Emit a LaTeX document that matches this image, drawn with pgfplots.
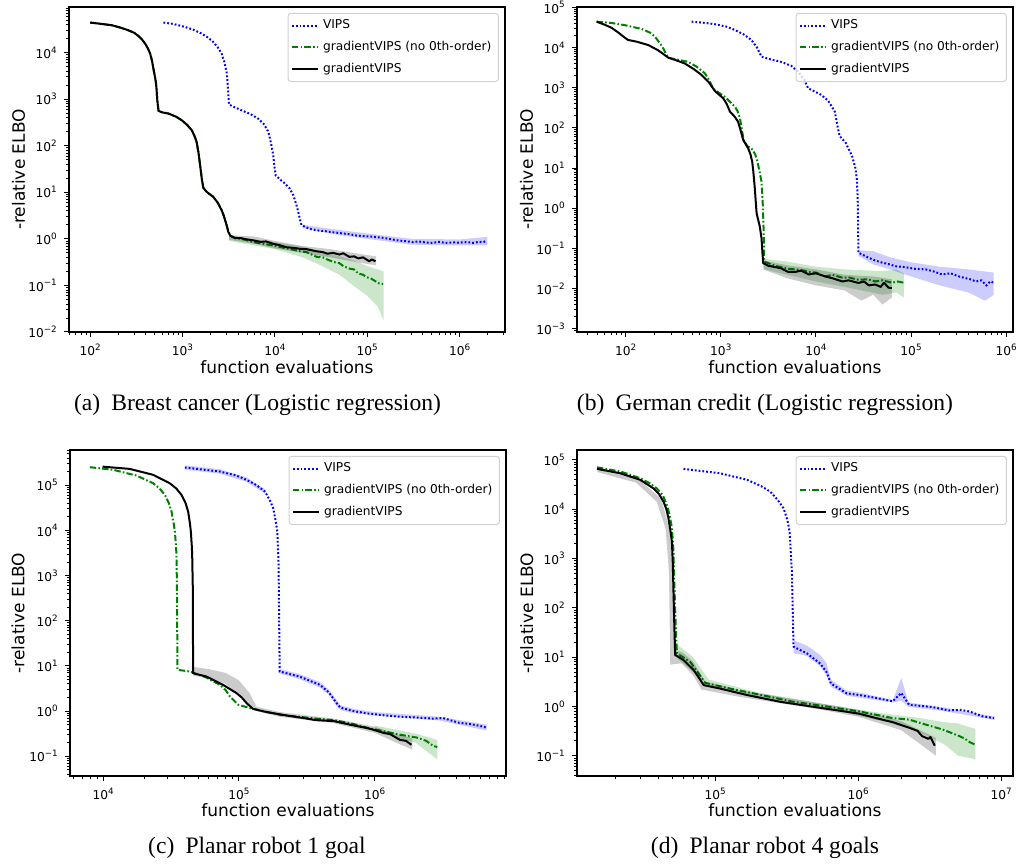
\documentclass[border=0pt]{standalone}
\usepackage{fontspec}
\setmainfont{DejaVu Sans}
\newfontfamily\capfont{Liberation Serif}
\usepackage{pgfplots}
\pgfplotsset{compat=1.18}

\definecolor{vipsblue}{rgb}{0,0,1}
\definecolor{gvgreen}{rgb}{0,0.5,0}

% exponent of a decade tick, with a real minus sign
\newcommand\tickexp[1]{\pgfmathtruncatemacro\tkexp{round(#1)}\ifnum\tkexp<0 −\number\numexpr-\tkexp\relax\else\tkexp\fi}
\newcommand\tenpow{10\raisebox{0.42em}{\fontsize{4.4}{5}\selectfont\tickexp{\tick}}}

\def\majx{1e1,1e2,1e3,1e4,1e5,1e6,1e7}
\def\majy{1e-3,1e-2,1e-1,1,1e1,1e2,1e3,1e4,1e5}
\def\minx{2e1,3e1,4e1,5e1,6e1,7e1,8e1,9e1,2e2,3e2,4e2,5e2,6e2,7e2,8e2,9e2,
  2e3,3e3,4e3,5e3,6e3,7e3,8e3,9e3,2e4,3e4,4e4,5e4,6e4,7e4,8e4,9e4,
  2e5,3e5,4e5,5e5,6e5,7e5,8e5,9e5,2e6,3e6,4e6,5e6,6e6,7e6,8e6,9e6}
\def\miny{2e-4,3e-4,4e-4,5e-4,6e-4,7e-4,8e-4,9e-4,2e-3,3e-3,4e-3,5e-3,6e-3,7e-3,8e-3,9e-3,
  2e-2,3e-2,4e-2,5e-2,6e-2,7e-2,8e-2,9e-2,0.2,0.3,0.4,0.5,0.6,0.7,0.8,0.9,
  2,3,4,5,6,7,8,9,20,30,40,50,60,70,80,90,200,300,400,500,600,700,800,900,
  2e3,3e3,4e3,5e3,6e3,7e3,8e3,9e3,2e4,3e4,4e4,5e4,6e4,7e4,8e4,9e4,
  2e5,3e5,4e5,5e5,6e5,7e5,8e5,9e5}

\pgfplotsset{
  every axis/.append style={
    scale only axis, width=218pt,
    axis line style={line width=0.55pt},
    tick align=outside, tick pos=left,
    major tick length=2.6pt, minor tick length=1.5pt,
    major tick style={black, line width=0.5pt},
    minor tick style={black, line width=0.4pt},
    tick label style={font=\fontsize{6.1}{7}\selectfont},
    label style={font=\fontsize{8.5}{10}\selectfont},
    legend style={at={(rel axis cs:0.986,0.982)}, anchor=north east,
      draw=black!18, line width=0.5pt, rounded corners=1.5pt,
      fill=white, fill opacity=0.8, text opacity=1,
      font=\fontsize{6.1}{7.3}\selectfont, inner xsep=1.5pt, inner ysep=1.2pt, row sep=0.7pt},
    legend cell align=left,
  },
  legend image code/.code={\draw[#1] (0pt,0pt) -- (13pt,0pt);},
}
\tikzset{
  vips/.style={vipsblue, line width=1pt, dash pattern=on 0.9pt off 1.0pt},
  gvzero/.style={gvgreen, line width=1pt, dash pattern=on 3.2pt off 1.1pt on 0.8pt off 1.1pt},
  gv/.style={black, line width=1pt, line join=round},
  bandB/.style={fill=vipsblue, fill opacity=0.2, draw=none},
  bandG/.style={fill=gvgreen, fill opacity=0.2, draw=none},
  bandK/.style={fill=black, fill opacity=0.2, draw=none},
}

\begin{document}
\begin{tikzpicture}
\path[use as bounding box] (0,0) rectangle (509pt,433pt);

% ---------------- (a) Breast cancer ----------------
\begin{axis}[xmode=log, ymode=log, log basis x=10, log basis y=10,
  xtick/.expand once=\majx, ytick/.expand once=\majy,
  minor xtick/.expand once=\minx, minor ytick/.expand once=\miny,
  xticklabel={\tenpow}, yticklabel={\tenpow},
  xlabel={function evaluations}, ylabel={-relative ELBO},
  x label style={at={(axis description cs:0.5,-0.107)}, anchor=center},
  y label style={at={(axis description cs:-0.116,0.5)}, anchor=center},
  at={(34.5pt,267pt)}, anchor=south west, height=162.5pt,
  xmin=59, xmax=3.1e6, ymin=1e-2, ymax=9.5e4]
\addplot[bandB, forget plot] coordinates {(2e4,2.0) (5e4,1.55) (1e5,1.3) (3e5,1.0) (1e6,0.97) (2e6,1.1)
  (2e6,0.72) (1e6,0.72) (3e5,0.75) (1e5,1.0) (5e4,1.2) (2e4,1.7)};
\addplot[vips] coordinates {(621,4.4e4) (800,4.1e4) (1060,3.55e4) (1300,3.1e4) (1600,2.57e4)
  (1850,2.15e4) (2140,1.7e4) (2400,1.3e4) (2650,9.5e3) (2820,6.5e3) (3000,3.8e3) (3080,2.2e3)
  (3140,1.2e3) (3180,766) (3600,680) (4350,575) (5400,480) (6600,380) (7600,290) (8500,198)
  (9100,110) (9600,62) (9900,35) (1.02e4,23) (1.15e4,18.5) (1.28e4,15.5) (1.45e4,12) (1.58e4,8.7)
  (1.7e4,5.6) (1.79e4,3.8) (1.87e4,2.6) (1.94e4,1.97) (2.2e4,1.75) (2.5e4,1.6) (3.0e4,1.5)
  (3.5e4,1.46) (4.3e4,1.38) (5.5e4,1.3) (6.5e4,1.25) (7.6e4,1.18) (9e4,1.15) (1.1e5,1.12)
  (1.3e5,1.08) (1.5e5,1.05) (1.8e5,0.98) (2.2e5,0.92) (2.6e5,0.89) (3.1e5,0.85) (3.6e5,0.88)
  (4.2e5,0.84) (5.1e5,0.82) (6e5,0.86) (7e5,0.82) (8.5e5,0.84) (1e6,0.83) (1.2e6,0.85)
  (1.4e6,0.82) (1.6e6,0.86) (1.8e6,0.85) (1.94e6,0.9)};
\addlegendentry{VIPS}
\addplot[bandG, forget plot] coordinates {(3200,1.15) (1e4,0.85) (2e4,0.68) (3e4,0.55) (5e4,0.42) (7e4,0.35)
  (1e5,0.26) (1.3e5,0.22) (1.5e5,0.2)
  (1.5e5,0.018) (1.3e5,0.035) (1e5,0.06) (7e4,0.1) (5e4,0.17) (3e4,0.28) (2e4,0.4) (1e4,0.6) (3200,0.9)};
\addplot[gvzero] coordinates {(100,4.4e4) (135,4.1e4) (172,3.85e4) (215,3.4e4) (259,3.0e4)
  (300,2.65e4) (333,2.27e4) (365,1.9e4) (393,1.56e4) (420,1.25e4) (446,9.5e3) (466,6.8e3)
  (484,4.5e3) (500,3.2e3) (514,2.35e3) (524,1.6e3) (531,1.03e3) (540,750) (550,558) (600,520)
  (703,490) (850,420) (980,352) (1120,280) (1260,215) (1350,160) (1420,121) (1490,70) (1550,38)
  (1620,19) (1680,12.4) (1800,10.5) (1950,9.2) (2150,8.0) (2400,6.0) (2650,4.13) (2800,3.1)
  (2930,2.3) (3040,1.8) (3130,1.41) (3300,1.16) (3700,1.03)
  (4350,1.0) (5000,0.93) (5800,0.85) (7000,0.8) (9600,0.72) (1.34e4,0.62) (1.6e4,0.58)
  (1.87e4,0.54) (2.2e4,0.52) (2.5e4,0.46) (2.83e4,0.41) (3.3e4,0.40) (3.7e4,0.36) (4.3e4,0.32)
  (5e4,0.30) (5.5e4,0.26) (6.4e4,0.23) (7.2e4,0.22) (8e4,0.18) (9e4,0.17) (9.8e4,0.15)
  (1.1e5,0.14) (1.25e5,0.12) (1.35e5,0.11) (1.48e5,0.107)};
\addlegendentry{gradientVIPS (no 0th-order)}
\addplot[bandK, forget plot] coordinates {(3200,1.2) (6e3,1.12) (1e4,0.9) (2e4,0.7) (4e4,0.6) (8e4,0.48) (1.25e5,0.42)
  (1.25e5,0.27) (8e4,0.31) (4e4,0.4) (2e4,0.5) (1e4,0.62) (6e3,0.78) (3200,0.95)};
\addplot[gv] coordinates {(100,4.4e4) (135,4.1e4) (172,3.85e4) (215,3.4e4) (259,3.0e4)
  (300,2.65e4) (333,2.27e4) (365,1.9e4) (393,1.56e4) (420,1.25e4) (446,9.5e3) (466,6.8e3)
  (484,4.5e3) (500,3.2e3) (514,2.35e3) (524,1.6e3) (531,1.03e3) (540,750) (550,558) (600,520)
  (703,490) (850,420) (980,352) (1120,280) (1260,215) (1350,160) (1420,121) (1490,70) (1550,38)
  (1620,19) (1680,12.4) (1800,10.5) (1950,9.2) (2150,8.0) (2400,6.0) (2650,4.13) (2800,3.1)
  (2930,2.3) (3040,1.8) (3130,1.41) (3300,1.16) (3700,1.05)
  (4350,1.03) (5000,0.97) (5800,0.93) (7000,0.86) (8000,0.88) (9600,0.78) (1.1e4,0.74) (1.34e4,0.66)
  (1.6e4,0.64) (1.87e4,0.61) (2.2e4,0.6) (2.83e4,0.54) (3.3e4,0.52) (3.7e4,0.48) (4.26e4,0.50)
  (5e4,0.46) (5.5e4,0.49) (6.4e4,0.41) (7.2e4,0.42) (8e4,0.38) (9.0e4,0.40) (9.8e4,0.36)
  (1.05e5,0.33) (1.12e5,0.36) (1.23e5,0.33)};
\addlegendentry{gradientVIPS}
\end{axis}

% ---------------- (b) German credit ----------------
\begin{axis}[xmode=log, ymode=log, log basis x=10, log basis y=10,
  xtick/.expand once=\majx, ytick/.expand once=\majy,
  minor xtick/.expand once=\minx, minor ytick/.expand once=\miny,
  xticklabel={\tenpow}, yticklabel={\tenpow},
  xlabel={function evaluations}, ylabel={-relative ELBO},
  x label style={at={(axis description cs:0.5,-0.107)}, anchor=center},
  y label style={at={(axis description cs:-0.116,0.5)}, anchor=center},
  at={(288.5pt,267pt)}, anchor=south west, height=162.5pt,
  xmin=30.8, xmax=1.18e6, ymin=8.3e-4, ymax=1.02e5]
\addplot[bandB, forget plot] coordinates {(2.8e4,0.09) (4e4,0.085) (6e4,0.06) (1e5,0.045) (2e5,0.035) (4e5,0.03) (7.4e5,0.025)
  (7.4e5,0.007) (6e5,0.005) (4e5,0.008) (2e5,0.012) (1e5,0.02) (6e4,0.03) (4e4,0.04) (2.8e4,0.065)};
\addplot[vips] coordinates {(493,4.4e4) (680,4.1e4) (867,3.8e4) (1150,3.3e4) (1410,2.72e4)
  (1750,2.1e4) (2100,1.54e4) (2400,1.0e4) (2680,5.9e3) (3400,5.0e3) (4300,4.4e3) (5500,3.5e3)
  (6500,2.5e3) (7500,1.6e3) (8300,966) (1.14e4,661) (1.35e4,470) (1.58e4,253) (1.7e4,100)
  (1.78e4,62) (2.04e4,44) (2.4e4,20) (2.6e4,10) (2.7e4,5) (2.75e4,1.7) (2.78e4,0.3) (2.8e4,0.078)
  (3.6e4,0.058) (4.2e4,0.05) (5.0e4,0.044) (6e4,0.04) (6.8e4,0.036) (8e4,0.035) (9.4e4,0.033)
  (1.1e5,0.031) (1.42e5,0.030) (1.7e5,0.027) (2.13e5,0.0224) (2.6e5,0.024) (3.2e5,0.020)
  (3.8e5,0.018) (4.2e5,0.017) (4.8e5,0.015) (5.5e5,0.016) (6.2e5,0.012) (6.8e5,0.015) (7.4e5,0.014)};
\addlegendentry{VIPS}
\addplot[bandG, forget plot] coordinates {(2860,0.055) (5e3,0.047) (1e4,0.035) (2e4,0.03) (5e4,0.027) (7e4,0.03) (8.4e4,0.024)
  (8.4e4,0.006) (7e4,0.008) (5e4,0.007) (2e4,0.011) (1e4,0.015) (5e3,0.022) (2860,0.03)};
\addplot[gvzero] coordinates {(49.5,4.4e4) (70,4.1e4) (98,3.6e4) (147,2.9e4) (180,2.35e4)
  (203,1.87e4) (225,1.35e4) (248,9.6e3) (265,7e3) (280,5.6e3) (360,4.9e3) (455,4.4e3) (560,3.3e3)
  (680,2.28e3) (760,1.5e3) (832,935) (1100,597) (1410,336) (1500,260) (1590,174) (1680,80)
  (1740,50) (1900,35) (2100,31) (2300,22) (2430,14.4) (2560,8) (2680,4.6) (2740,2.0) (2790,0.68)
  (2830,0.2) (2860,0.047) (3700,0.037) (5100,0.031) (6100,0.030) (7500,0.028) (8400,0.026)
  (1e4,0.025) (1.26e4,0.020) (1.5e4,0.022) (1.9e4,0.0186) (2.2e4,0.019) (2.8e4,0.0165)
  (3.5e4,0.017) (4.2e4,0.015) (5e4,0.016) (6.3e4,0.014) (7.2e4,0.015) (8.4e4,0.014)};
\addlegendentry{gradientVIPS (no 0th-order)}
\addplot[bandK, forget plot] coordinates {(2800,0.05) (5e3,0.038) (1e4,0.03) (2e4,0.022) (4e4,0.02) (6.3e4,0.017)
  (6.3e4,0.006) (5e4,0.004) (4e4,0.007) (3e4,0.005) (2e4,0.009) (1e4,0.012) (5e3,0.018) (2800,0.03)};
\addplot[gv] coordinates {(49.5,4.4e4) (60,3.7e4) (71,3.1e4) (85,2.3e4) (95,1.85e4) (106,1.54e4)
  (130,1.4e4) (173,1.15e4) (220,8.5e3) (280,5.6e3) (340,4.8e3) (419,4.0e3) (520,2.9e3)
  (628,2.07e3) (750,1.35e3) (867,828) (1060,545) (1150,400) (1250,253) (1400,190) (1520,142)
  (1620,85) (1720,50) (1940,31) (2050,22) (2140,14.4) (2200,8) (2280,3.1) (2330,1.5) (2380,0.75)
  (2480,0.5) (2570,0.35) (2680,0.18) (2740,0.08) (2790,0.043) (3150,0.037) (4300,0.032)
  (5100,0.026) (6100,0.026) (7000,0.028) (8400,0.0224) (1e4,0.024) (1.26e4,0.020) (1.5e4,0.018)
  (1.9e4,0.015) (2.2e4,0.016) (2.8e4,0.0138) (3.2e4,0.015) (3.6e4,0.012) (4.2e4,0.0126)
  (4.8e4,0.011) (5.2e4,0.014) (5.8e4,0.0105) (6.3e4,0.0104)};
\addlegendentry{gradientVIPS}
\end{axis}

% ---------------- (c) Planar robot 1 goal ----------------
\begin{axis}[xmode=log, ymode=log, log basis x=10, log basis y=10,
  xtick/.expand once=\majx, ytick/.expand once=\majy,
  minor xtick/.expand once=\minx, minor ytick/.expand once=\miny,
  xticklabel={\tenpow}, yticklabel={\tenpow},
  xlabel={function evaluations}, ylabel={-relative ELBO},
  x label style={at={(axis description cs:0.5,-0.104)}, anchor=center},
  y label style={at={(axis description cs:-0.119,0.5)}, anchor=center},
  at={(35pt,45pt)}, anchor=south west, height=163pt,
  xmin=5.7e3, xmax=9.3e6, ymin=0.0366, ymax=6.0e5]
\addplot[bandB, forget plot] coordinates {(4e4,2.75e5) (7.25e4,2.25e5) (1.14e5,1.48e5) (1.56e5,8e4)
  (1.56e5,6.5e4) (1.14e5,1.18e5) (7.25e4,1.8e5) (4e4,2.2e5)};
\addplot[bandB, forget plot] coordinates {(2e5,8.5) (2.8e5,6.6) (3.96e5,4.4) (4.6e5,3.0) (5.25e5,1.75)
  (5.6e5,1.35) (7e5,1.12) (1e6,0.95) (3e6,0.75) (6.7e6,0.5)
  (6.7e6,0.37) (3e6,0.62) (1e6,0.8) (7e5,0.9) (5.6e5,1.05) (5.25e5,1.3) (4.6e5,2.3) (3.96e5,3.3)
  (2.8e5,5.1) (2e5,6.8)};
\addplot[vips] coordinates {(4.0e4,2.46e5) (7.25e4,2.0e5) (9.5e4,1.65e5) (1.14e5,1.31e5)
  (1.35e5,1.0e5) (1.56e5,7.2e4) (1.7e5,4.5e4) (1.79e5,3.1e4) (1.87e5,1.6e4) (1.92e5,9.4e3)
  (1.96e5,2e3) (1.97e5,525) (2.0e5,7.5) (2.8e5,5.8) (3.96e5,3.8) (4.6e5,2.6) (5.25e5,1.5)
  (5.6e5,1.19) (7e5,1.0) (8.8e5,0.89) (1.2e6,0.8) (1.54e6,0.75) (2e6,0.72)
  (2.7e6,0.68) (3.2e6,0.7) (4.2e6,0.55) (5e6,0.52) (6e6,0.47) (6.7e6,0.43)};
\addlegendentry{VIPS}
\addplot[bandG, forget plot] coordinates {(1e6,0.48) (2e6,0.32) (2.9e6,0.23) (2.9e6,0.085) (2e6,0.2) (1e6,0.36)};
\addplot[gvzero] coordinates {(7.98e3,2.5e5) (1.19e4,2.18e5) (1.76e4,1.63e5) (2.34e4,1.1e5)
  (2.6e4,8.5e4) (2.85e4,6.1e4) (3.05e4,4.0e4) (3.19e4,2.6e4) (3.3e4,1.5e4) (3.38e4,9.4e3)
  (3.44e4,4.5e3) (3.47e4,2.9e3) (3.5e4,500) (3.53e4,8.2) (4.35e4,7.5) (5.78e4,5.5) (7.25e4,3.8)
  (8.0e4,2.9) (8.6e4,2.1) (9.9e4,1.38) (1.27e5,1.12) (2.0e5,0.83) (3.7e5,0.68) (5e5,0.63)
  (6.6e5,0.54) (8.8e5,0.43) (1.16e6,0.36) (1.54e6,0.30) (2.04e6,0.26) (2.4e6,0.22) (2.7e6,0.17) (2.9e6,0.16)};
\addlegendentry{gradientVIPS (no 0th-order)}
\addplot[bandK, forget plot] coordinates {(4.62e4,9.5) (6e4,8.5) (8e4,7) (1e5,4.8) (1.2e5,2.5) (1.35e5,1.25)
  (2e5,0.95) (5e5,0.68) (1e6,0.45) (1.5e6,0.3) (1.9e6,0.25)
  (1.9e6,0.14) (1.5e6,0.19) (1e6,0.33) (5e5,0.54) (2e5,0.75) (1.35e5,1.0) (1.2e5,1.3) (1e5,2.2)
  (8e4,4.0) (6e4,5.5) (4.62e4,6.0)};
\addplot[gv] coordinates {(9.9e3,2.57e5) (1.57e4,2.29e5) (2.34e4,1.69e5) (3.1e4,1.1e5)
  (3.45e4,8.5e4) (3.78e4,6.1e4) (4.05e4,4.0e4) (4.23e4,2.6e4) (4.35e4,1.5e4) (4.43e4,9.4e3)
  (4.5e4,4.5e3) (4.53e4,2.9e3) (4.58e4,500) (4.6e4,6.9) (5.78e4,5.8) (7.66e4,3.8) (9.6e4,2.5)
  (1.05e5,2.0) (1.14e5,1.5) (1.27e5,1.12) (1.6e5,0.95) (2.0e5,0.85) (2.24e5,0.8) (3.0e5,0.7)
  (3.7e5,0.63) (5e5,0.6) (6.6e5,0.5) (8.8e5,0.42) (1.0e6,0.38) (1.16e6,0.33) (1.3e6,0.31)
  (1.54e6,0.23) (1.7e6,0.22) (1.87e6,0.18)};
\addlegendentry{gradientVIPS}
\end{axis}

% ---------------- (d) Planar robot 4 goals ----------------
\begin{axis}[xmode=log, ymode=log, log basis x=10, log basis y=10,
  xtick/.expand once=\majx, ytick/.expand once=\majy,
  minor xtick/.expand once=\minx, minor ytick/.expand once=\miny,
  xticklabel={\tenpow}, yticklabel={\tenpow},
  xlabel={function evaluations}, ylabel={-relative ELBO},
  x label style={at={(axis description cs:0.5,-0.104)}, anchor=center},
  y label style={at={(axis description cs:-0.115,0.5)}, anchor=center},
  at={(288.5pt,45pt)}, anchor=south west, height=163pt,
  xmin=1.08e4, xmax=1.21e7, ymin=0.0389, ymax=1.57e5]
\addplot[bandB, forget plot] coordinates {(3.53e5,22) (4.38e5,17) (5.42e5,11) (6.0e5,7.5) (6.45e5,3.5)
  (8.3e5,2.1) (1.02e6,1.9) (1.75e6,1.35) (2.0e6,3.8) (2.25e6,1.2) (4e6,0.95) (9e6,0.62)
  (9e6,0.53) (4e6,0.8) (2.25e6,0.98) (2.0e6,1.3) (1.75e6,1.2) (1.02e6,1.5) (8.3e5,1.65)
  (6.45e5,2.5) (6.0e5,4.3) (5.42e5,6.5) (4.38e5,10.5) (3.53e5,12)};
\addplot[vips] coordinates {(6.0e4,6.5e4) (1.08e5,5.3e4) (1.67e5,3.9e4) (2.1e5,2.9e4)
  (2.43e5,2.24e4) (2.75e5,1.5e4) (3.0e5,1.04e4) (3.2e5,6e3) (3.31e5,3.5e3) (3.44e5,537)
  (3.53e5,16.2) (4.38e5,11.9) (5.42e5,7.4) (6.0e5,5.0) (6.45e5,2.9) (8.3e5,1.84) (1.02e6,1.7)
  (1.33e6,1.49) (1.74e6,1.27) (2.0e6,1.87) (2.27e6,1.08) (3.3e6,0.97) (4.3e6,0.83) (5.2e6,0.85)
  (6.0e6,0.79) (7.4e6,0.63) (8.9e6,0.58)};
\addlegendentry{VIPS}
\addplot[bandG, forget plot] coordinates {(5.4e4,18) (7e4,10) (9e4,3.5) (2e5,1.9) (6e5,1.1) (1.5e6,0.72)
  (2.5e6,0.6) (4e6,0.48) (5e6,0.45) (6.6e6,0.35)
  (6.6e6,0.085) (5e6,0.1) (4e6,0.17) (2.5e6,0.33) (1.5e6,0.5) (6e5,0.9) (2e5,1.55) (9e4,2.7)
  (7e4,5) (5.5e4,9)};
\addplot[gvzero] coordinates {(1.49e4,7.0e4) (2.2e4,5.7e4) (2.99e4,4.2e4) (3.5e4,3.3e4)
  (3.91e4,2.6e4) (4.3e4,1.9e4) (4.6e4,1.2e4) (4.8e4,7.5e3) (4.98e4,4.1e3) (5.1e4,1.5e3)
  (5.19e4,246) (5.3e4,40) (5.4e4,11.9) (6.68e4,8.0) (7.64e4,4.7) (8.5e4,3.0) (1.27e5,2.3)
  (2.03e5,1.74) (3.47e5,1.25) (5.96e5,1.0) (1.02e6,0.79) (1.33e6,0.68) (1.74e6,0.58)
  (2.27e6,0.54) (2.95e6,0.43) (3.9e6,0.34) (5.1e6,0.25) (5.6e6,0.22) (6.0e6,0.19) (6.6e6,0.166)};
\addlegendentry{gradientVIPS (no 0th-order)}
\addplot[bandK, forget plot] coordinates {(1.5e4,7.0e4) (2.8e4,4.4e4) (4.2e4,1.6e4) (4.9e4,3e3) (5.2e4,200)
  (5.3e4,14) (6e4,12) (7e4,8) (8.5e4,3.2) (1.5e5,2.1) (5e5,1.2) (1e6,0.85) (2e6,0.5) (3.5e6,0.23)
  (3.5e6,0.1) (2e6,0.33) (1e6,0.62) (5e5,0.9) (1.5e5,1.55) (8e4,2.2) (7e4,4.3) (5.8e4,7.5)
  (4.85e4,7) (4.75e4,500) (4.5e4,4e3) (3.9e4,1.4e4) (2.8e4,3.4e4) (1.5e4,5.6e4)};
\addplot[gv] coordinates {(1.49e4,6.5e4) (2.17e4,5.3e4) (2.99e4,3.9e4) (3.71e4,2.6e4)
  (4.05e4,2.0e4) (4.35e4,1.41e4) (4.55e4,1.0e4) (4.71e4,6.5e3) (4.85e4,3.8e3) (4.98e4,2.2e3)
  (5.05e4,800) (5.1e4,246) (5.18e4,40) (5.25e4,11) (6.0e4,8.7) (7.05e4,5.5) (7.7e4,3.8)
  (8.3e4,2.7) (1.08e5,2.3) (1.67e5,1.7) (2.85e5,1.24) (4.87e5,0.98) (8.3e5,0.78) (1.02e6,0.71)
  (1.33e6,0.58) (1.74e6,0.48) (2.27e6,0.37) (2.6e6,0.32) (2.8e6,0.25) (3.1e6,0.22) (3.2e6,0.24)
  (3.43e6,0.16)};
\addlegendentry{gradientVIPS}
\end{axis}

% sub-figure captions
\begin{scope}[every node/.style={font=\capfont\fontsize{11.8}{13}\selectfont, inner sep=0pt}]
\node at (128.75pt,230.5pt) {(a)\hspace{0.22em} Breast cancer (Logistic regression)};
\node at (382.5pt,230.5pt) {(b)\hspace{0.22em} German credit (Logistic regression)};
\node at (128.5pt,9pt) {(c)\hspace{0.22em} Planar robot 1 goal};
\node at (382.5pt,9pt) {(d)\hspace{0.22em} Planar robot 4 goals};
\end{scope}
\end{tikzpicture}
\end{document}
